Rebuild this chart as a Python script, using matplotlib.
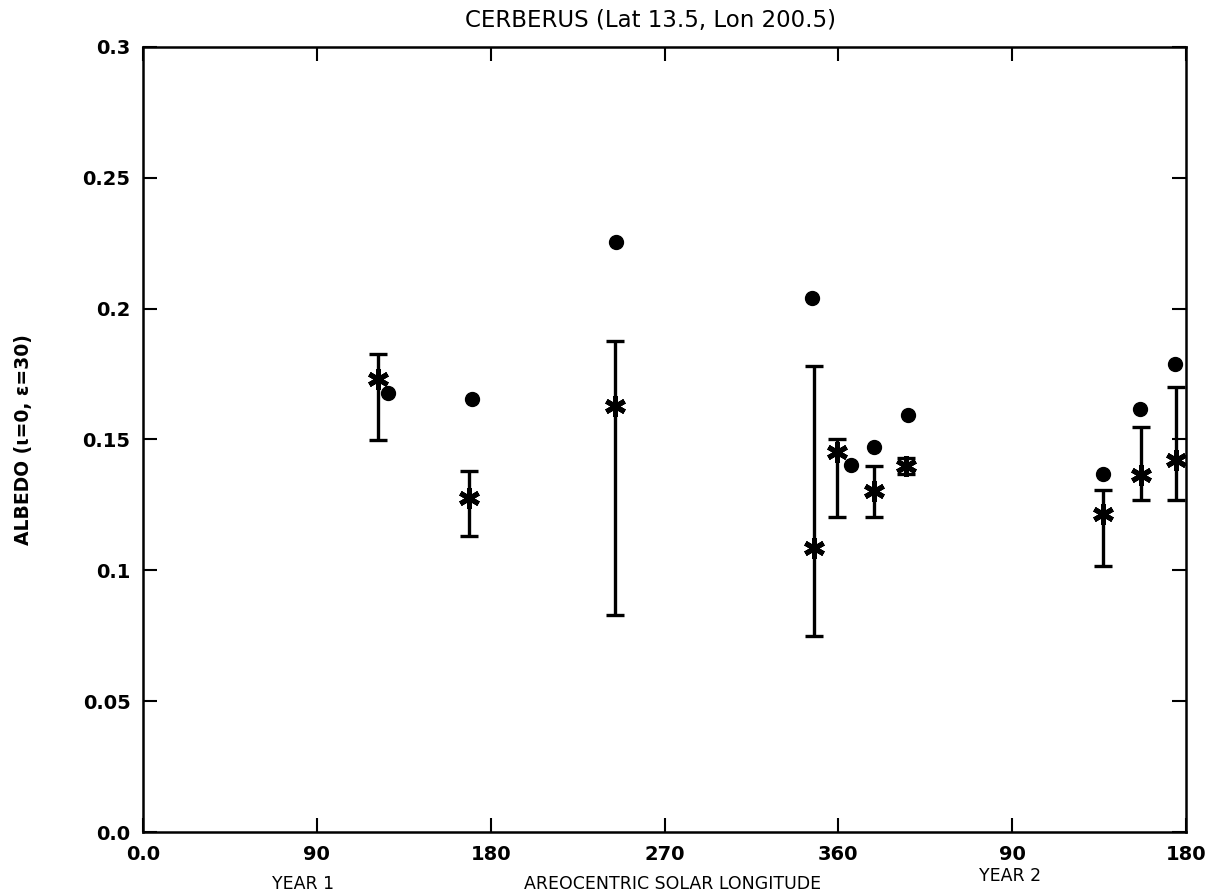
import matplotlib
matplotlib.use("Agg")
import matplotlib.pyplot as plt

# Areocentric solar longitude (continuous: 0-360 year 1, 360-540 year 2)
star_ls = [121.9, 169.0, 244.4, 347.3, 359.2, 378.3, 394.8, 497.1, 516.8, 534.9]
star_albedo = [0.173, 0.1276, 0.1628, 0.1084, 0.1451, 0.1303, 0.1399, 0.1217, 0.1364, 0.142]
err_low = [0.1498, 0.113, 0.0829, 0.0748, 0.1203, 0.1203, 0.1370, 0.1016, 0.1267, 0.1267]
err_high = [0.1826, 0.138, 0.1875, 0.1779, 0.150, 0.140, 0.1428, 0.1307, 0.1547, 0.170]

dot_ls = [127.1, 170.5, 245.0, 346.2, 366.4, 378.3, 395.9, 497.1, 516.3, 534.4]
dot_albedo = [0.1679, 0.1655, 0.2254, 0.2041, 0.1404, 0.147, 0.1592, 0.137, 0.1616, 0.1787]

xtick_pos = [0, 90, 180, 270, 360, 450, 540]
xtick_labels = ["0.0", "90", "180", "270", "360", "90", "180"]
ytick_pos = [0.0, 0.05, 0.1, 0.15, 0.2, 0.25, 0.3]
ytick_labels = ["0.0", "0.05", "0.1", "0.15", "0.2", "0.25", "0.3"]

plt.rcParams['font.family'] = ['DejaVu Sans']

fig = plt.figure(figsize=(12.19, 8.94), dpi=100)
ax = fig.add_axes([143/1219, 1 - 832/894, 1043/1219, 785/894])

yerr = [[s - lo for s, lo in zip(star_albedo, err_low)],
        [hi - s for s, hi in zip(star_albedo, err_high)]]
ax.errorbar(star_ls, star_albedo, yerr=yerr, fmt='none', ecolor='black',
            elinewidth=2.4, capsize=6.5, capthick=2.4, zorder=2)
ax.plot(star_ls, star_albedo, linestyle='none', marker=(6, 2, 0),
        markersize=15, markeredgewidth=3.6, color='black', zorder=3)
ax.plot(dot_ls, dot_albedo, linestyle='none', marker='o', markersize=10,
        color='black', zorder=3)

ax.set_xlim(0, 540)
ax.set_ylim(0, 0.3)
ax.set_xticks(xtick_pos)
ax.set_xticklabels(xtick_labels)
ax.set_yticks(ytick_pos)
ax.set_yticklabels(ytick_labels)
ax.tick_params(direction='in', length=10, width=1.5, top=True, right=True,
               labelsize=14, pad=9)
for lab in ax.get_xticklabels() + ax.get_yticklabels():
    lab.set_fontweight('bold')
for sp in ax.spines.values():
    sp.set_linewidth(1.8)

fig.text(650/1219, 1 - 20/894, "CERBERUS (Lat 13.5, Lon 200.5)", ha='center',
         va='center', fontsize=16.5)
fig.text(24/1219, 1 - 440/894, "ALBEDO (\u03b9=0, \u03b5=30)", rotation=90,
         ha='center', va='center', fontsize=13.5, fontweight='bold')
fig.text(303/1219, 1 - 884/894, "YEAR 1", ha='center', va='center', fontsize=12.5)
fig.text(673/1219, 1 - 884/894, "AREOCENTRIC SOLAR LONGITUDE", ha='center',
         va='center', fontsize=12.5)
fig.text(1010/1219, 1 - 876/894, "YEAR 2", ha='center', va='center', fontsize=12.5)

fig.savefig("out.png", dpi=100)
